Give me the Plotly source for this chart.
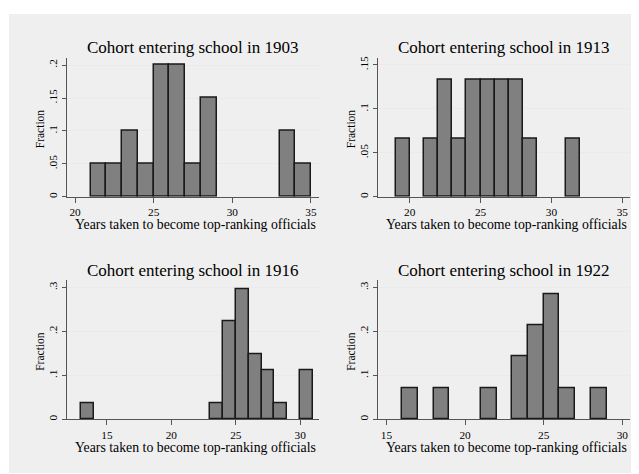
import plotly.graph_objects as go

# page is rendered with an 8px body margin; figure pixel = page pixel - 8
OFF = 8
W, H = 639 - OFF, 474 - OFF

titles = ["Cohort entering school in 1903", "Cohort entering school in 1913",
          "Cohort entering school in 1916", "Cohort entering school in 1922"]
x_title = "Years taken to become top-ranking officials"
y_title = "Fraction"

# bin left edges (width 1 year) and counts per cohort
bins_1903 = [21, 22, 23, 24, 25, 26, 27, 28, 33, 34]
counts_1903 = [1, 1, 2, 1, 4, 4, 1, 3, 2, 1]

bins_1913 = [19, 21, 22, 23, 24, 25, 26, 27, 28, 31]
counts_1913 = [1, 1, 2, 1, 2, 2, 2, 2, 1, 1]

bins_1916 = [13, 23, 24, 25, 26, 27, 28, 30]
counts_1916 = [1, 1, 6, 8, 4, 3, 1, 3]

bins_1922 = [16, 18, 21, 23, 24, 25, 26, 28]
counts_1922 = [1, 1, 1, 2, 3, 4, 1, 1]

x_ticks_top = [20, 25, 30, 35]
x_ticks_bottom = [15, 20, 25, 30]
y_ticks_1903 = [0, 0.05, 0.1, 0.15, 0.2]
y_labels_1903 = ["0", ".05", ".1", ".15", ".2"]
y_ticks_1913 = [0, 0.05, 0.1, 0.15]
y_labels_1913 = ["0", ".05", ".1", ".15"]
y_ticks_30 = [0, 0.1, 0.2, 0.3]
y_labels_30 = ["0", ".1", ".2", ".3"]

x_ranges = [[19.49, 35.51], [17.76, 35.54], [11.9, 31.46], [14.46, 30.49]]
y_ranges = [[0, 0.2113], [0, 0.1583], [0, 0.3165], [0, 0.3165]]

panels = [
    (bins_1903, counts_1903, x_ticks_top, y_ticks_1903, y_labels_1903),
    (bins_1913, counts_1913, x_ticks_top, y_ticks_1913, y_labels_1913),
    (bins_1916, counts_1916, x_ticks_bottom, y_ticks_30, y_labels_30),
    (bins_1922, counts_1922, x_ticks_bottom, y_ticks_30, y_labels_30),
]

# plot areas in page pixels: (left, right, top, bottom)
boxes = [(67, 319, 56, 196), (378, 630, 56, 196), (67, 319, 280, 420), (378, 630, 280, 420)]


def px(x):
    return (x - OFF) / W


def py(y):
    return 1 - (y - OFF) / H


FONT = "Liberation Serif, Times New Roman, serif"
fig = go.Figure()
layout = dict(
    width=W, height=H, margin=dict(l=0, r=0, t=0, b=0),
    paper_bgcolor="white", plot_bgcolor="white", showlegend=False,
    font=dict(family=FONT, color="black"),
    bargap=0,
)
annotations = []
for i, ((bins, counts, xt, yt, yl), (l, r, t, b)) in enumerate(zip(panels, boxes)):
    n = sum(counts)
    frac = [c / n for c in counts]
    ax = "" if i == 0 else str(i + 1)
    fig.add_trace(go.Bar(
        x=bins, y=frac, width=1, offset=0,
        marker=dict(color="#808080", line=dict(color="#1a1a1a", width=1.5)),
        xaxis="x" + ax, yaxis="y" + ax, hoverinfo="x+y",
    ))
    layout["xaxis" + ax] = dict(
        domain=[px(l), px(r)], anchor="y" + ax, range=x_ranges[i],
        tickvals=xt, ticks="outside", ticklen=5, tickcolor="#555", tickwidth=1,
        showline=True, linecolor="#555", linewidth=1, showgrid=False, zeroline=False,
        tickfont=dict(size=11.3, family=FONT, color="black"),
        fixedrange=True,
    )
    layout["yaxis" + ax] = dict(
        domain=[py(b), py(t)], anchor="x" + ax, range=y_ranges[i],
        tickvals=yt, ticktext=yl, tickangle=-90, ticks="outside", ticklen=4,
        tickcolor="#555", tickwidth=1,
        showline=True, linecolor="#555", linewidth=1, showgrid=True,
        gridcolor="#eaeaea", gridwidth=1, zeroline=False,
        tickfont=dict(size=11.3, family=FONT, color="black"),
        fixedrange=True,
    )
    annotations.append(dict(
        text=titles[i], x=px((l + r) / 2), y=py(t - 10), xref="paper", yref="paper",
        xanchor="center", yanchor="middle", showarrow=False,
        font=dict(size=17, family=FONT, color="black"),
    ))
    annotations.append(dict(
        text=x_title, x=px((l + r) / 2 + 2), y=py(b + 28), xref="paper", yref="paper",
        xanchor="center", yanchor="middle", showarrow=False,
        font=dict(size=13.8, family=FONT, color="black"),
    ))
    annotations.append(dict(
        text=y_title, x=px(l - 27), y=py((t + b) / 2 + 2), xref="paper", yref="paper",
        xanchor="center", yanchor="middle", showarrow=False, textangle=-90,
        font=dict(size=11.5, family=FONT, color="black"),
    ))

layout["annotations"] = annotations
layout["shapes"] = [dict(type="rect", xref="paper", yref="paper", layer="below",
                         x0=px(9), x1=1, y0=0, y1=py(12),
                         fillcolor="#efefef", line=dict(width=0))]
fig.update_layout(**layout)
fig.write_html("out.html")
